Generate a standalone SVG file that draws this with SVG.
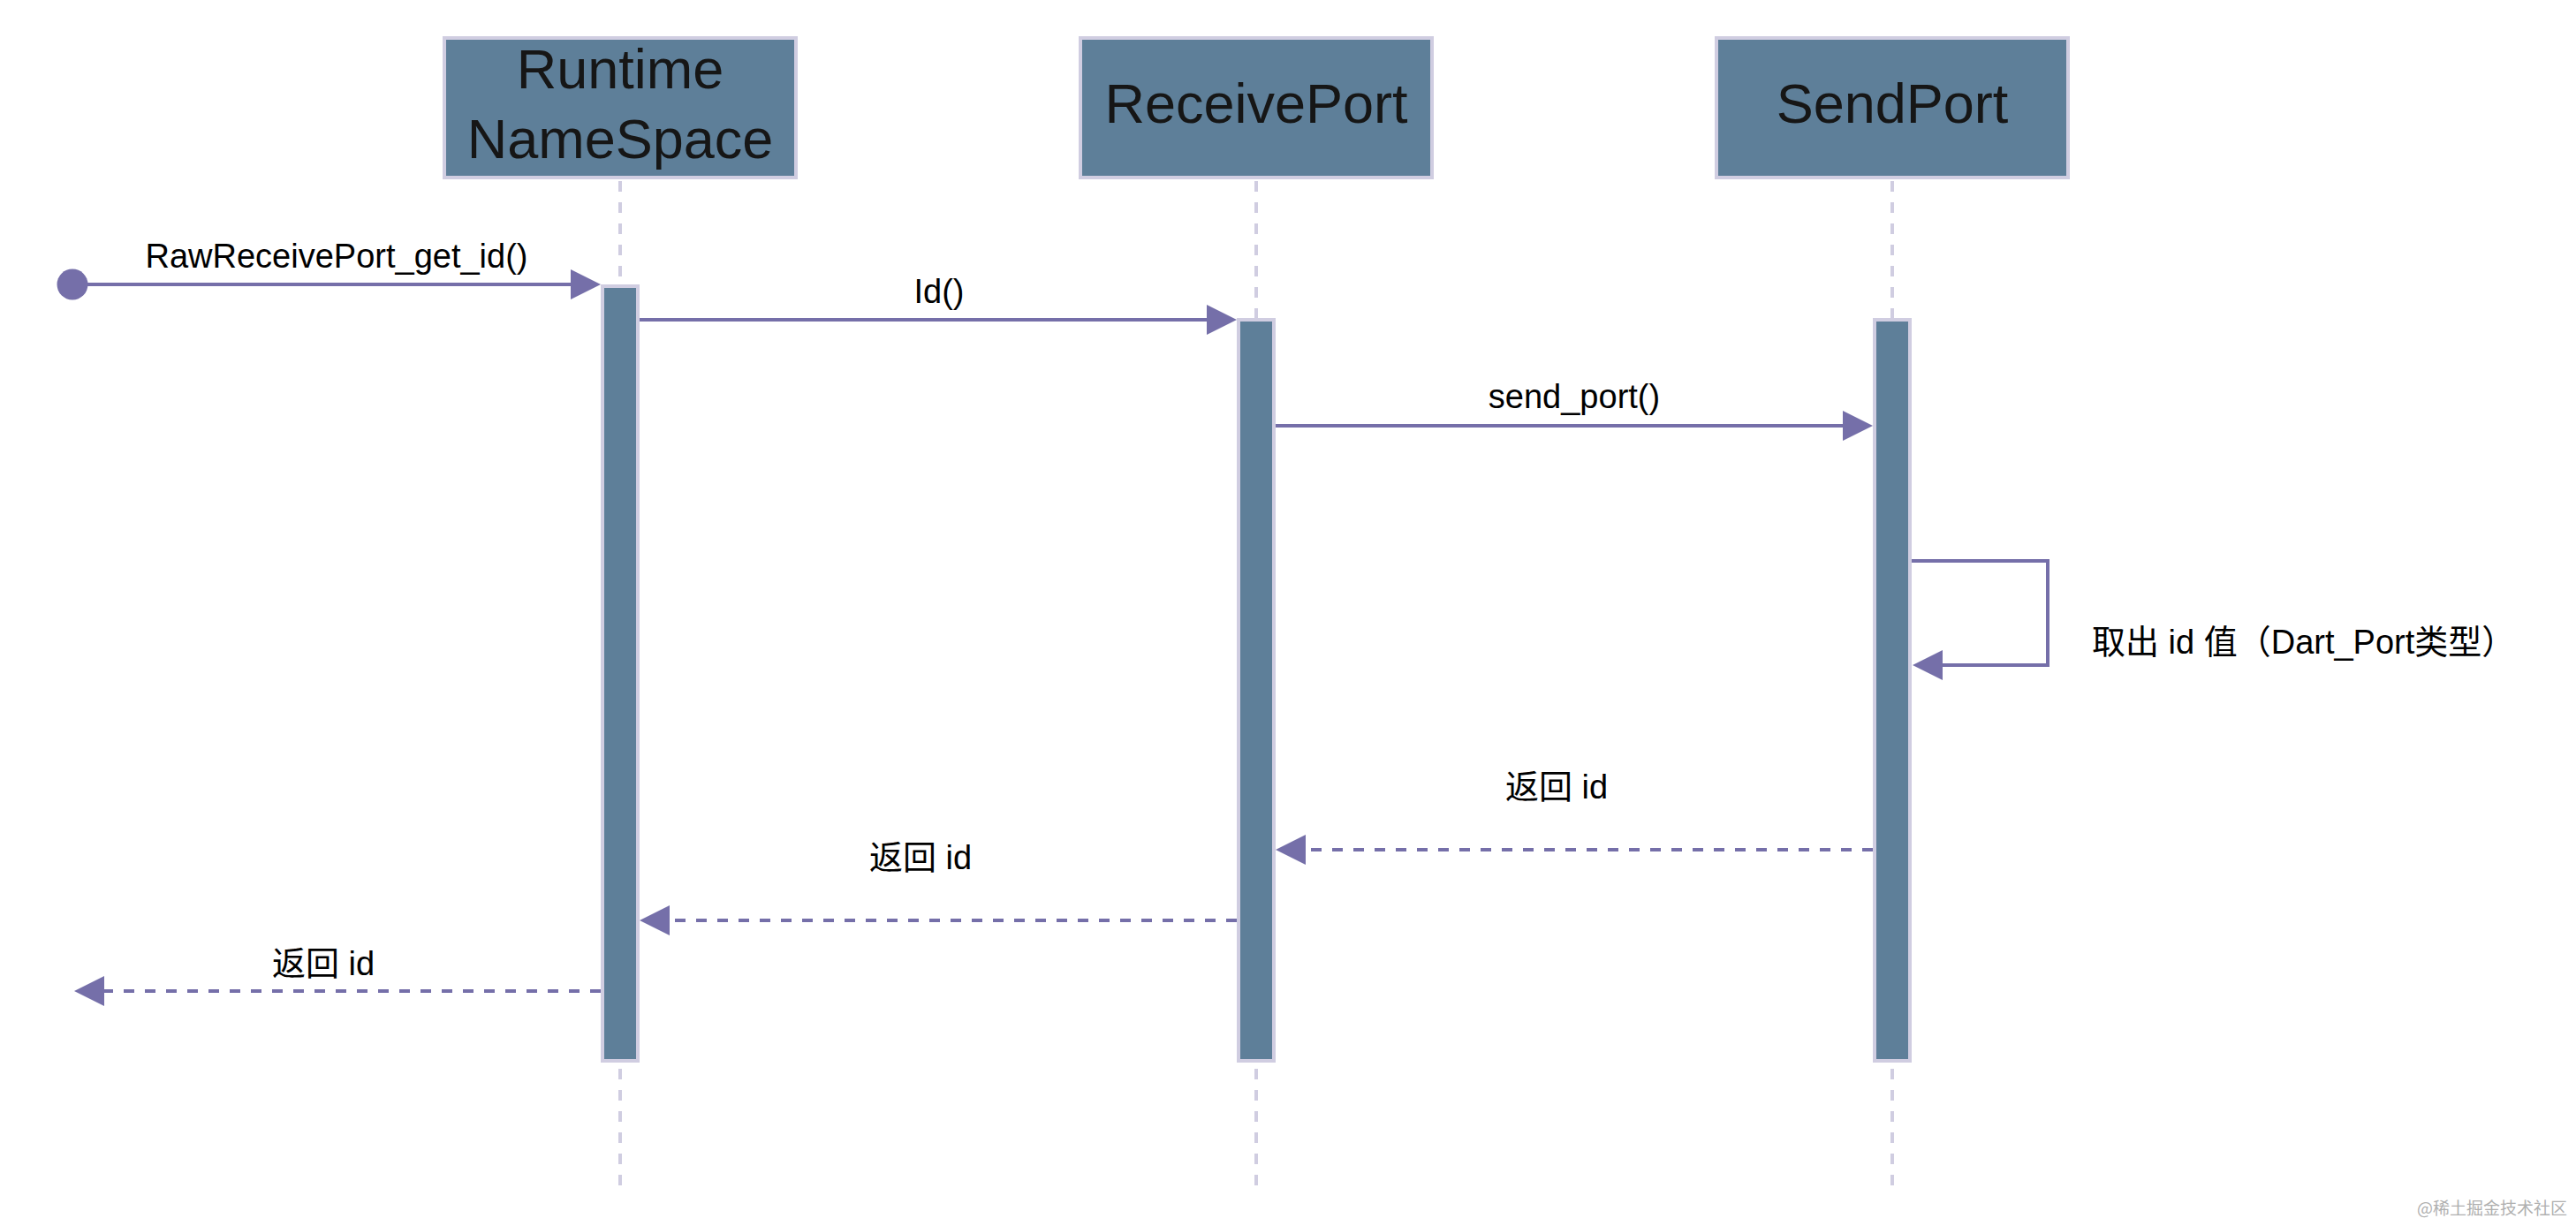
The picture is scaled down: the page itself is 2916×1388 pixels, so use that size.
<svg xmlns="http://www.w3.org/2000/svg" width="2916" height="1388" viewBox="0 0 2916 1388">
<style>
  .head { fill: #5e7f99; stroke: #d0cde1; stroke-width: 4; }
  .head-text { font-family: "Liberation Sans", Arial, sans-serif; font-size: 63px; fill: #161616; text-anchor: middle; }
  .life { stroke: #d0cde1; stroke-width: 4; stroke-dasharray: 12 12; fill: none; }
  .act { fill: #5e7f99; stroke: #d0cde1; stroke-width: 4; }
  .msg { stroke: #756fa9; stroke-width: 4; fill: none; marker-end: url(#arrow); }
  .ret { stroke: #756fa9; stroke-width: 4; fill: none; stroke-dasharray: 12 12; marker-end: url(#arrow); }
  .label { font-family: "Liberation Sans", Arial, "Noto Sans CJK SC", sans-serif; font-size: 38px; fill: #000; text-anchor: middle; }
  .mark { font-family: "Noto Sans CJK SC", sans-serif; font-size: 19px; fill: #b0b0b0; text-anchor: end; }
</style>
<defs>
  <marker id="arrow" markerUnits="userSpaceOnUse" markerWidth="34" markerHeight="34" refX="4" refY="17" orient="auto">
    <path d="M0,0 L34,17 L0,34 Z" fill="#756fa9"/>
  </marker>
</defs>
<rect width="2916" height="1388" fill="#ffffff"/>

<g id="runtime">
  <rect class="head" x="503" y="43" width="398" height="158"/>
  <text class="head-text" x="702" y="100">Runtime</text>
  <text class="head-text" x="702" y="179">NameSpace</text>
  <line class="life" x1="702" y1="205" x2="702" y2="322"/>
  <line class="life" x1="702" y1="1210" x2="702" y2="1346"/>
  <rect class="act" x="682" y="324" width="40" height="877"/>
</g>

<g id="receiveport">
  <rect class="head" x="1223" y="43" width="398" height="158"/>
  <text class="head-text" x="1422" y="139">ReceivePort</text>
  <line class="life" x1="1422" y1="205" x2="1422" y2="360"/>
  <line class="life" x1="1422" y1="1210" x2="1422" y2="1346"/>
  <rect class="act" x="1402" y="362" width="40" height="839"/>
</g>

<g id="sendport">
  <rect class="head" x="1943" y="43" width="398" height="158"/>
  <text class="head-text" x="2142" y="139">SendPort</text>
  <line class="life" x1="2142" y1="205" x2="2142" y2="360"/>
  <line class="life" x1="2142" y1="1210" x2="2142" y2="1346"/>
  <rect class="act" x="2122" y="362" width="40" height="839"/>
</g>

<g id="connectors">
  <circle cx="82" cy="322" r="17.5" fill="#756fa9"/>
  <line class="msg" x1="82" y1="322" x2="650" y2="322"/>
  <line class="msg" x1="724" y1="362" x2="1370" y2="362"/>
  <line class="msg" x1="1444" y1="482" x2="2090" y2="482"/>
  <polyline class="msg" points="2164,635 2318,635 2318,753 2195,753"/>
  <line class="ret" x1="2120" y1="962" x2="1474" y2="962"/>
  <line class="ret" x1="1400" y1="1042" x2="754" y2="1042"/>
  <line class="ret" x1="680" y1="1122" x2="114" y2="1122"/>
</g>

<g id="labels">
  <text class="label" x="381" y="303">RawReceivePort_get_id()</text>
  <text class="label" x="1063" y="343">Id()</text>
  <text class="label" x="1782" y="462">send_port()</text>
  <text class="label" x="2368" y="740" style="text-anchor:start">取出 id 值（Dart_Port类型）</text>
  <text class="label" x="1762" y="904">返回 id</text>
  <text class="label" x="1042" y="984">返回 id</text>
  <text class="label" x="366" y="1104">返回 id</text>
</g>

<text class="mark" x="2906" y="1375">@稀土掘金技术社区</text>
</svg>
